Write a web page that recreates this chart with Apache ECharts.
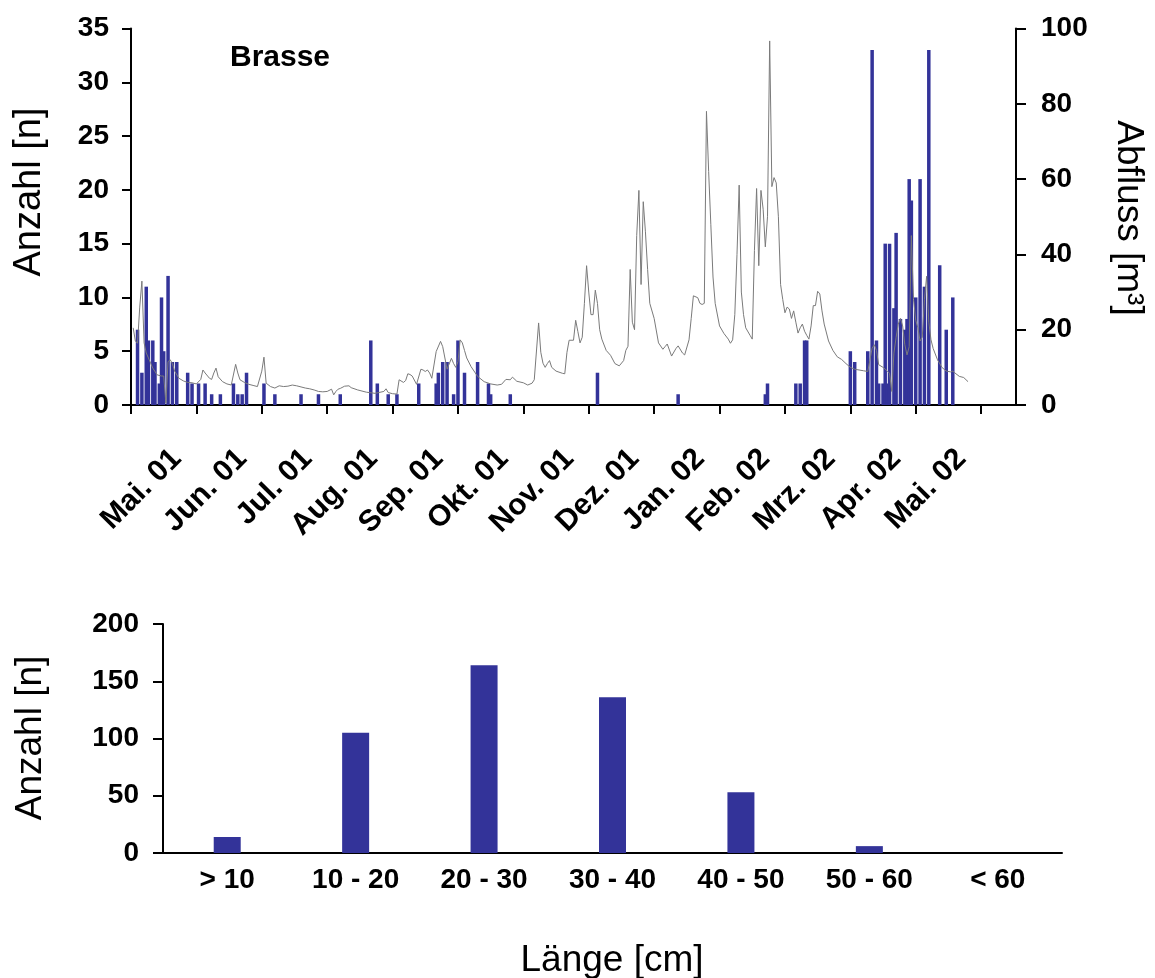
<!DOCTYPE html>
<html>
<head>
<meta charset="utf-8">
<script src="https://cdn.jsdelivr.net/npm/echarts@6/dist/echarts.min.js"></script>
<style>
  html, body { margin: 0; padding: 0; background: #fff; }
  #main { width: 1155px; height: 978px; }
</style>
</head>
<body>
<div id="main"></div>
<script>
// --- data (x = day index from start of series, 30 days per tick) ---
const monthLabels = ['Mai. 01', 'Jun. 01', 'Jul. 01', 'Aug. 01', 'Sep. 01', 'Okt. 01', 'Nov. 01',
  'Dez. 01', 'Jan. 02', 'Feb. 02', 'Mrz. 02', 'Apr. 02', 'Mai. 02'];

// fish counts per day (Anzahl)
const countDays = [3, 5, 7, 8, 10, 11, 13, 14, 15, 17, 19, 21, 26, 28, 31, 34, 37, 41, 47, 49, 51, 53,
  61, 66, 78, 86, 96, 110, 113, 118, 122, 132, 140, 141, 143, 145, 148, 150, 153, 159, 164, 165, 174,
  214, 251, 291, 292, 305, 307, 309, 310, 330, 332, 338, 340, 342, 343, 345, 346, 347, 348, 350, 351,
  353, 355, 356, 357, 358, 360, 362, 364, 366, 371, 374, 377];
const counts = [7, 3, 11, 6, 6, 4, 2, 10, 5, 12, 4, 4, 3, 2, 2, 2, 1, 1, 2, 1, 1, 3,
  2, 1, 1, 1, 1, 6, 2, 1, 1, 2, 2, 3, 4, 4, 1, 6, 3, 4, 2, 1, 1,
  3, 1, 1, 2, 2, 2, 6, 6, 5, 4, 5, 33, 6, 2, 2, 15, 2, 15, 9, 16,
  8, 7, 8, 21, 19, 10, 21, 11, 33, 13, 7, 10];

// discharge (Abfluss)
const flowDays = [1, 2, 3, 4, 5, 6, 7, 8, 9, 10, 12, 14, 15, 16, 17, 18, 19, 20, 22, 24, 26, 28, 30,
  32, 33, 34, 36, 37, 38, 39, 40, 42, 44, 46, 48, 49, 50, 52, 54, 56, 58, 60, 61, 62, 64, 66, 68, 70,
  72, 74, 76, 78, 80, 82, 84, 86, 88, 90, 92, 93, 94, 95, 96, 98, 100, 101, 104, 108, 112, 116, 117,
  118, 120, 122, 123, 125, 126, 127, 128, 129, 131, 133, 134, 135, 136, 137, 138, 140, 142, 143, 145,
  147, 148, 149, 150, 151, 152, 153, 154, 156, 159, 162, 165, 168, 170, 172, 174, 175, 177, 180, 182,
  184, 185, 187, 188, 189, 190, 191, 192, 193, 195, 198, 199, 200, 201, 203, 204, 205, 206, 207, 208,
  209, 210, 211, 212, 213, 214, 215, 216, 218, 220, 222, 224, 226, 227, 228, 229, 230, 231, 232, 233,
  234, 235, 236, 237, 238, 240, 242, 244, 245, 246, 248, 250, 251, 253, 254, 256, 257, 258, 260, 261,
  262, 263, 264, 265, 266, 267, 268, 270, 272, 274, 275, 276, 277, 278, 279, 280, 281, 282, 284, 285,
  286, 287, 288, 289, 290, 291, 292, 293, 294, 295, 296, 297, 298, 299, 300, 301, 302, 303, 304, 305,
  306, 307, 308, 309, 310, 311, 312, 313, 314, 315, 316, 317, 318, 320, 322, 324, 326, 328, 330, 332,
  334, 336, 338, 339, 340, 341, 342, 343, 345, 346, 347, 348, 349, 350, 351, 352, 353, 354, 355, 356,
  357, 358, 359, 360, 361, 362, 363, 364, 365, 366, 367, 368, 370, 372, 374, 376, 377, 378, 380, 382, 384];
const flow = [20.5, 17, 16.4, 26, 32.9, 16.5, 13.8, 12.5, 11.1, 9.8, 8, 7.7, 7.7, 0.5, 11.5, 12, 11, 9, 7.1, 6.4, 6, 5.9, 5.6,
  6.8, 9.3, 8.5, 7.1, 6.8, 8.5, 9.8, 7.5, 6.2, 5.6, 5.3, 10.8, 8.5, 6.7, 6, 5.5, 5.2, 4.9, 9, 12.7, 5.8, 4.9, 4.5, 5.1, 4.9,
  5, 5.3, 5.1, 4.8, 4.5, 4.3, 4, 3.6, 3.5, 3.6, 4.2, 2.7, 3.6, 4.2, 4.4, 5, 5.1, 4.6, 4, 3.4, 3.1, 3.6, 4.3,
  3.3, 3, 2.9, 6.7, 6, 6.5, 8.3, 8.1, 7.7, 5.5, 9.5, 9.3, 8.9, 9.3, 8.5, 7.1, 14.2, 16.9, 15.5, 9.5,
  12.4, 11, 10, 11.5, 17.3, 16.5, 14.5, 12.5, 10.2, 7.6, 6.2, 5.6, 5.3, 5.5, 6.8, 6.7, 7.4, 6.3, 5.9, 5.3,
  5.8, 6.7, 21.8, 14, 11.1, 10, 11, 11.8, 10, 9, 8.4, 8.3, 14, 17.2, 17.2, 22.5, 19.5, 16.5, 18, 27,
  37, 30, 24, 24, 30.5, 27, 20, 17.5, 14.5, 13.2, 11, 10.4, 11.8, 14.5, 15.6, 36, 22, 20, 45, 57,
  32, 54, 46, 36, 27, 23, 16.5, 14.8, 15.5, 16.2, 13, 15, 15.7, 13.8, 13.3, 17.3, 23, 29, 28.5, 27,
  26.7, 27, 78, 62, 48, 34, 27, 21, 19, 17.5, 16.4, 17.3, 24, 40, 58.4, 30, 24, 20.5, 18.5, 17.5,
  41, 57.5, 37, 57, 52, 42, 50, 96.7, 58, 60.4, 59, 50, 32, 28, 24.5, 26, 25.5, 23, 25, 22,
  19.1, 20.5, 21.5, 19.6, 18.5, 17.5, 21, 26.4, 26.4, 30.2, 29.5, 25, 21.5, 17, 14.5, 12.8, 12.1, 11, 10, 9.5,
  9.3, 9.1, 8.9, 12, 15.1, 16, 14.5, 10.7, 10, 9.5, 9, 8.4, 3.6, 13.8, 18, 21.5, 23, 21, 16, 13.3,
  15.5, 45, 28, 22.5, 20.5, 17, 18, 28, 34.2, 22, 17.3, 15, 12, 10, 9, 8.8, 9, 8.5, 7.6, 7.3, 6.2];

// length classes (Länge)
const lengthClasses = ['> 10', '10 - 20', '20 - 30', '30 - 40', '40 - 50', '50 - 60', '< 60'];
const lengthCounts = [14, 105, 164, 136, 53, 6, 0];

const labelShift = 21;
const tickDays = monthLabels.map((m, i) => i * 30).concat([390]);
const labelDays = monthLabels.map((m, i) => i * 30 + labelShift);

const font = "'Liberation Sans', Arial, sans-serif";
const axisLineStyle = { color: '#000', width: 2 };
const boldLabel = { color: '#000', fontFamily: font, fontWeight: 'bold', fontSize: 28 };

const chart = echarts.init(document.getElementById('main'));

const option = {
  animation: false,
  backgroundColor: '#fff',
  grid: [
    { left: 131, right: 139, top: 28.5, height: 376.5 },
    { left: 163, right: 93, top: 624, height: 229 }
  ],
  xAxis: [
    {
      type: 'value',
      gridIndex: 0,
      min: 0,
      max: 406,
      axisLine: { lineStyle: axisLineStyle },
      axisTick: { show: true, length: 9, lineStyle: axisLineStyle, customValues: tickDays },
      splitLine: { show: false },
      axisLabel: Object.assign({}, boldLabel, {
        fontSize: 30,
        rotate: 45,
        margin: 49,
        customValues: labelDays,
        formatter: (v) => monthLabels[Math.round((v - labelShift) / 30)]
      })
    },
    {
      type: 'category',
      gridIndex: 1,
      data: lengthClasses,
      axisLine: { lineStyle: axisLineStyle },
      axisTick: { length: 10, lineStyle: axisLineStyle },
      axisLabel: Object.assign({}, boldLabel, { margin: 13 })
    }
  ],
  yAxis: [
    {
      type: 'value',
      gridIndex: 0,
      min: 0, max: 35, interval: 5,
      axisLine: { show: true, lineStyle: axisLineStyle },
      axisTick: { show: true, length: 9, lineStyle: axisLineStyle },
      splitLine: { show: false },
      axisLabel: Object.assign({}, boldLabel, { margin: 22 })
    },
    {
      type: 'value',
      gridIndex: 0,
      position: 'right',
      min: 0, max: 100, interval: 20,
      axisLine: { show: true, lineStyle: axisLineStyle },
      axisTick: { show: true, length: 10, lineStyle: axisLineStyle },
      splitLine: { show: false },
      axisLabel: Object.assign({}, boldLabel, { margin: 25 })
    },
    {
      type: 'value',
      gridIndex: 1,
      min: 0, max: 200, interval: 50,
      axisLine: { show: true, lineStyle: axisLineStyle },
      axisTick: { show: true, length: 10, lineStyle: axisLineStyle },
      splitLine: { show: false },
      axisLabel: Object.assign({}, boldLabel, { margin: 24 })
    }
  ],
  series: [
    {
      name: 'Anzahl',
      type: 'bar',
      xAxisIndex: 0,
      yAxisIndex: 0,
      barWidth: 3.5,
      itemStyle: { color: '#333399' },
      data: countDays.map((d, i) => [d, counts[i]]),
      z: 2
    },
    {
      name: 'Abfluss',
      type: 'line',
      xAxisIndex: 0,
      yAxisIndex: 1,
      symbol: 'none',
      lineStyle: { color: '#7a7a7a', width: 1 },
      data: flowDays.map((d, i) => [d, flow[i]]),
      z: 3
    },
    {
      name: 'Länge',
      type: 'bar',
      xAxisIndex: 1,
      yAxisIndex: 2,
      barWidth: 27,
      itemStyle: { color: '#333399' },
      data: lengthCounts
    }
  ],
  graphic: [
    {
      type: 'text', x: 280, y: 58,
      style: { text: 'Brasse', font: 'bold 30px ' + font, fill: '#000', textAlign: 'center', textVerticalAlign: 'middle' }
    },
    {
      type: 'text', x: 30, y: 192, rotation: Math.PI / 2,
      style: { text: 'Anzahl [n]', font: '38px ' + font, fill: '#000', textAlign: 'center', textVerticalAlign: 'middle' }
    },
    {
      type: 'text', x: 1128, y: 218, rotation: -Math.PI / 2,
      style: { text: 'Abfluss [m³]', font: '37px ' + font, fill: '#000', textAlign: 'center', textVerticalAlign: 'middle' }
    },
    {
      type: 'text', x: 31, y: 738, rotation: Math.PI / 2,
      style: { text: 'Anzahl [n]', font: '37px ' + font, fill: '#000', textAlign: 'center', textVerticalAlign: 'middle' }
    },
    {
      type: 'text', x: 612, y: 961,
      style: { text: 'Länge [cm]', font: '37px ' + font, fill: '#000', textAlign: 'center', textVerticalAlign: 'middle' }
    }
  ]
};

chart.setOption(option);
</script>
</body>
</html>
